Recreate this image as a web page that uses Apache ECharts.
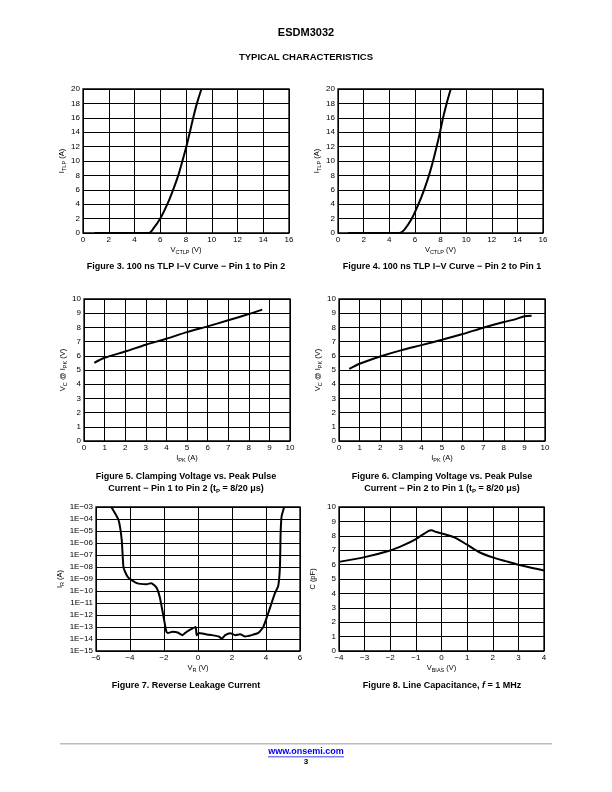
<!DOCTYPE html>
<html><head><meta charset="utf-8">
<script src="https://cdn.jsdelivr.net/npm/echarts@6/dist/echarts.min.js"></script>
<style>html,body{margin:0;padding:0;background:#fff}#c{width:612px;height:792px}</style>
</head><body><div id="c"></div>
<script>
// ---- Data ----
// Figure 3: TLP I-V, Pin 1 to Pin 2
const fig3V = [0.9, 5.1, 5.5, 6.0, 6.55, 7.0, 7.4, 7.72, 8.03, 8.3, 8.56, 8.85, 9.2];
const fig3I = [0, 0, 0.7, 2, 4, 6, 8, 10, 12, 14, 16, 18, 20];
// Figure 4: TLP I-V, Pin 2 to Pin 1
const fig4V = [0.8, 4.78, 5.2, 5.76, 6.28, 6.72, 7.1, 7.42, 7.7, 7.96, 8.2, 8.48, 8.8];
const fig4I = [0, 0, 0.5, 2, 4, 6, 8, 10, 12, 14, 16, 18, 20];
// Figure 5: Clamping voltage vs Ipk, Pin 1 to Pin 2
const fig5I = [0.5, 1, 2, 3, 4, 5, 6, 7, 8, 8.65];
const fig5V = [5.5, 5.86, 6.3, 6.78, 7.2, 7.67, 8.07, 8.5, 8.94, 9.25];
// Figure 6: Clamping voltage vs Ipk, Pin 2 to Pin 1
const fig6I = [0.5, 1, 2, 3, 4, 5, 6, 7, 8, 8.5, 9, 9.35];
const fig6V = [5.08, 5.44, 5.95, 6.38, 6.75, 7.13, 7.53, 7.98, 8.38, 8.55, 8.78, 8.82];
// Figure 7: Reverse leakage current (A)
const fig7V = [-5.1, -4.68, -4.49, -4.39, -4.29, -4.1, -3.6, -3.03, -2.74, -2.45, -2.25, -2.06, -1.86, -1.77, -1.5, -1.2, -0.91, -0.72, -0.43, -0.14, -0.08, 0.06, 0.45, 0.83, 1.22, 1.4, 1.6, 1.9, 2.19, 2.48, 2.77, 3.16, 3.55, 3.84, 4.13, 4.52, 4.72, 4.82, 4.86, 4.92, 5.07];
const fig7I = [1e-3, 8.7e-5, 2e-6, 1.1e-8, 4e-9, 1.3e-9, 4.5e-10, 3.7e-10, 4.5e-10, 2e-10, 3.2e-11, 1.3e-12, 4e-14, 3.2e-14, 4e-14, 3.5e-14, 2.1e-14, 3.5e-14, 6.3e-14, 1e-13, 2.1e-14, 3.2e-14, 2.5e-14, 2.1e-14, 1.6e-14, 1.1e-14, 2.1e-14, 3e-14, 2.1e-14, 2.5e-14, 1.6e-14, 2.1e-14, 3.2e-14, 1e-13, 1.4e-12, 6.3e-11, 2.7e-10, 1.1e-8, 6.8e-6, 1.7e-4, 1e-3];
// Figure 8: Line capacitance (pF)
const fig8V = [-4, -3, -2, -1.5, -1, -0.5, -0.4, -0.2, 0, 0.5, 1, 1.5, 2, 2.5, 3, 3.5, 4];
const fig8C = [6.19, 6.52, 6.98, 7.33, 7.77, 8.35, 8.38, 8.26, 8.17, 7.89, 7.38, 6.84, 6.5, 6.24, 5.99, 5.78, 5.59];

const FONT = "'Liberation Sans', Arial, sans-serif";
const zip = (a, b) => a.map((v, i) => [v, b[i]]);
const minus = v => String(v).replace('-', '\u2212');

const rich = {
  n: { fontSize: 7.5, fontFamily: FONT, color: '#000' },
  s: { fontSize: 5.5, fontFamily: FONT, color: '#000', padding: [5, 0, 0, 0] }
};

const grids = [
  { left: 83, top: 89, width: 206, height: 144 },
  { left: 338, top: 89, width: 205, height: 144 },
  { left: 84, top: 299, width: 206, height: 142 },
  { left: 339, top: 299, width: 206, height: 142 },
  { left: 96, top: 507, width: 204, height: 144 },
  { left: 339, top: 507, width: 205, height: 144 }
].map(g => Object.assign({ show: true, borderColor: '#000', borderWidth: 1.3, backgroundColor: '#fff' }, g));

function xAx(i, min, max, interval, name, gap) {
  return {
    type: 'value', gridIndex: i, min, max, interval,
    name, nameLocation: 'middle', nameGap: gap || 11,
    nameTextStyle: { rich },
    axisLine: { show: false }, axisTick: { show: false },
    axisLabel: { fontSize: 8, fontFamily: FONT, color: '#000', margin: 3, formatter: minus },
    splitLine: { show: true, lineStyle: { color: '#000', width: 1 } }
  };
}
function yAx(i, min, max, interval, name, gap, fmt, type) {
  const a = {
    type: type || 'value', gridIndex: i, min, max,
    name, nameLocation: 'middle', nameGap: gap, nameRotate: 90,
    nameTextStyle: { rich },
    axisLine: { show: false }, axisTick: { show: false },
    axisLabel: { fontSize: 8, fontFamily: FONT, color: '#000', margin: 3, formatter: fmt || minus },
    splitLine: { show: true, lineStyle: { color: '#000', width: 1 } }
  };
  if (type === 'log') { a.logBase = 10; a.interval = 1; } else { a.interval = interval; }
  return a;
}
const logFmt = v => { const e = Math.round(Math.log10(v)); return '1E\u2212' + String(-e).padStart(2, '0'); };

function line(i, data) {
  return { type: 'line', xAxisIndex: i, yAxisIndex: i, data, showSymbol: false, smooth: 0.3,
    lineStyle: { color: '#000', width: 2 }, z: 5, silent: true };
}

const nTLP = '{n|I}{s|TLP}{n| (A)}';
const nVC = '{n|V}{s|C}{n| @ I}{s|PK}{n| (V)}';

function txt(x, y, text, size) {
  return { type: 'text', x, y, silent: true,
    style: { text, font: 'bold ' + size + 'px ' + FONT, fill: '#000', textAlign: 'center', textVerticalAlign: 'middle' } };
}
const capRich = {
  b: { font: 'bold 9px ' + FONT, fill: '#000' },
  sb: { font: 'bold 6px ' + FONT, fill: '#000', padding: [4, 0, 0, 0] },
  i: { font: 'italic bold 9px ' + FONT, fill: '#000' }
};
function cap(x, y, text) {
  return { type: 'text', x, y, silent: true,
    style: { text, rich: capRich, textAlign: 'center', textVerticalAlign: 'middle', font: 'bold 9px ' + FONT, fill: '#000' } };
}

const option = {
  animation: false,
  grid: grids,
  xAxis: [
    xAx(0, 0, 16, 2, '{n|V}{s|CTLP}{n| (V)}'),
    xAx(1, 0, 16, 2, '{n|V}{s|CTLP}{n| (V)}'),
    xAx(2, 0, 10, 1, '{n|I}{s|PK}{n| (A)}'),
    xAx(3, 0, 10, 1, '{n|I}{s|PK}{n| (A)}'),
    xAx(4, -6, 6, 2, '{n|V}{s|R}{n| (V)}'),
    xAx(5, -4, 4, 1, '{n|V}{s|BIAS}{n| (V)}')
  ],
  yAxis: [
    yAx(0, 0, 20, 2, nTLP, 15),
    yAx(1, 0, 20, 2, nTLP, 15),
    yAx(2, 0, 10, 1, nVC, 15),
    yAx(3, 0, 10, 1, nVC, 15),
    yAx(4, 1e-15, 1e-3, 1, '{n|I}{s|R}{n| (A)}', 29, logFmt, 'log'),
    yAx(5, 0, 10, 1, '{n|C (pF)}', 22)
  ],
  series: [
    line(0, zip(fig3V, fig3I)),
    line(1, zip(fig4V, fig4I)),
    line(2, zip(fig5I, fig5V)),
    line(3, zip(fig6I, fig6V)),
    Object.assign(line(4, zip(fig7V, fig7I)), { smooth: 0.15 }),
    line(5, zip(fig8V, fig8C))
  ],
  graphic: [
    txt(306, 33, 'ESDM3032', 11),
    txt(306, 57, 'TYPICAL CHARACTERISTICS', 9.5),
    cap(186, 267, '{b|Figure 3. 100 ns TLP I\u2212V Curve \u2212 Pin 1 to Pin 2}'),
    cap(442, 267, '{b|Figure 4. 100 ns TLP I\u2212V Curve \u2212 Pin 2 to Pin 1}'),
    cap(186, 477, '{b|Figure 5. Clamping Voltage vs. Peak Pulse}'),
    cap(186, 489, '{b|Current \u2212 Pin 1 to Pin 2 (t}{sb|P}{b| = 8/20 \u03bcs)}'),
    cap(442, 477, '{b|Figure 6. Clamping Voltage vs. Peak Pulse}'),
    cap(442, 489, '{b|Current \u2212 Pin 2 to Pin 1 (t}{sb|P}{b| = 8/20 \u03bcs)}'),
    cap(186, 686, '{b|Figure 7. Reverse Leakage Current}'),
    cap(442, 686, '{b|Figure 8. Line Capacitance, }{i|f}{b| = 1 MHz}'),
    { type: 'rect', silent: true, shape: { x: 60, y: 743, width: 492, height: 1.5 }, style: { fill: '#bbb' } },
    { type: 'text', x: 306, y: 752, silent: true, style: { text: 'www.onsemi.com', font: 'bold 9px ' + FONT, fill: '#0000ee', textAlign: 'center', textVerticalAlign: 'middle' } },
    { type: 'rect', silent: true, shape: { x: 268, y: 756.5, width: 76, height: 0.8 }, style: { fill: '#0000ee' } },
    { type: 'text', x: 306, y: 762, silent: true, style: { text: '3', font: 'bold 8px ' + FONT, fill: '#000', textAlign: 'center', textVerticalAlign: 'middle' } }
  ]
};
const chart = echarts.init(document.getElementById('c'), null, { renderer: 'canvas' });
chart.setOption(option);
</script>
</body></html>
